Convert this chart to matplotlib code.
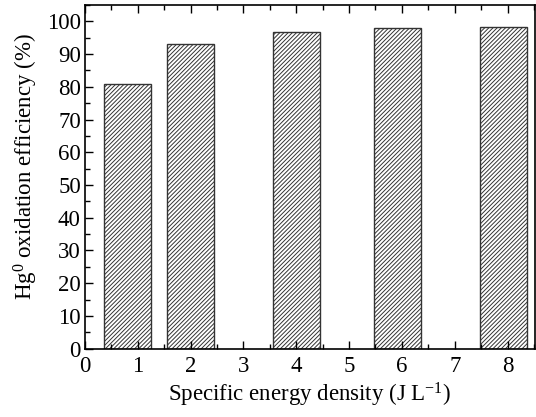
import numpy as np
import matplotlib.pyplot as plt
from matplotlib.ticker import MultipleLocator

plt.rcParams['font.family'] = ['Liberation Serif', 'DejaVu Serif']
plt.rcParams['mathtext.fontset'] = 'custom'
plt.rcParams['mathtext.rm'] = 'Liberation Serif'
plt.rcParams['mathtext.it'] = 'Liberation Serif:italic'
plt.rcParams['hatch.linewidth'] = 0.7

# specific energy density (J/L) and Hg0 oxidation efficiency (%)
sed = [0.81, 2.0, 4.01, 5.92, 7.92]
efficiency = [80.8, 93.2, 96.8, 98.1, 98.4]

fig = plt.figure(figsize=(5.36, 4.17), dpi=100)
ax = fig.add_axes([0.1586, 0.1638, 0.8395, 0.8242])

ax.bar(sed, efficiency, width=0.895, color='white', edgecolor='#333333',
       linewidth=1.0, hatch='////////')

ax.set_xlim(0, 8.52)
ax.set_ylim(0, 105)
ax.xaxis.set_major_locator(MultipleLocator(1))
ax.xaxis.set_minor_locator(MultipleLocator(0.5))
ax.yaxis.set_major_locator(MultipleLocator(10))
ax.yaxis.set_minor_locator(MultipleLocator(5))
ax.tick_params(which='both', direction='in', top=True, right=False, labelsize=16.5, width=1)
ax.tick_params(which='major', length=6)
ax.tick_params(which='minor', length=3.5)
ax.tick_params(axis='x', which='major', pad=5)
ax.tick_params(axis='y', which='major', pad=3)
for s in ax.spines.values():
    s.set_linewidth(1.2)

ax.set_xlabel('Specific energy density (J L$^{-1}$)', fontsize=16.5, labelpad=3)
ax.set_ylabel('Hg$^{0}$ oxidation efficiency (%)', fontsize=16.5, labelpad=5)
ax.yaxis.label.set_y(0.53)

fig.savefig('out.png', dpi=100)
